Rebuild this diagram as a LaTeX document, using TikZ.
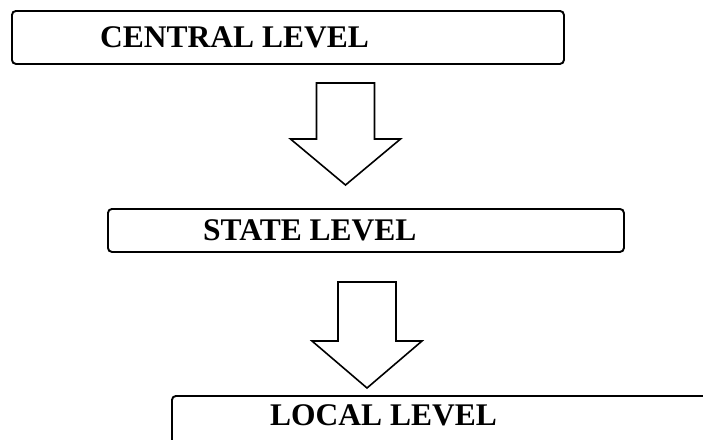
\documentclass[tikz,border=0pt]{standalone}
\usepackage{fontspec}
\setmainfont{Liberation Serif}
\begin{document}
\begin{tikzpicture}[x=1pt,y=-1pt,color=black,
  levelbox/.style={draw,line width=1.9pt,rounded corners=4pt,inner sep=0pt,anchor=north west},
  leveltext/.style={font=\bfseries\fontsize{31.5}{38}\selectfont,inner sep=0pt,anchor=base west},
  blockarrow/.style={draw,line width=1.6pt,line join=miter}]
\useasboundingbox (0,0) rectangle (703,439);
\clip (0,0) rectangle (703,439);
% the three levels
\node[levelbox,minimum width=552pt,minimum height=53pt] (central) at (11,10) {};
\node[levelbox,minimum width=516pt,minimum height=43pt] (state) at (107,208) {};
\node[levelbox,minimum width=600pt,minimum height=80pt] (local) at (171,395) {};
\node[leveltext] (central text) at (100,47) {CENTRAL LEVEL};
\node[leveltext] (state text) at (203,240) {STATE LEVEL};
\node[leveltext] (local text) at (270,425) {LOCAL LEVEL};
% block arrows between the levels
\foreach \cx/\ty/\sy/\tip in {345.5/83/139/185, 367/282/341/388} {
	\draw[blockarrow] (\cx-29,\ty) -- (\cx+29,\ty) -- (\cx+29,\sy) -- (\cx+55,\sy)
		-- (\cx,\tip) -- (\cx-55,\sy) -- (\cx-29,\sy) -- cycle;
}
\end{tikzpicture}
\end{document}
